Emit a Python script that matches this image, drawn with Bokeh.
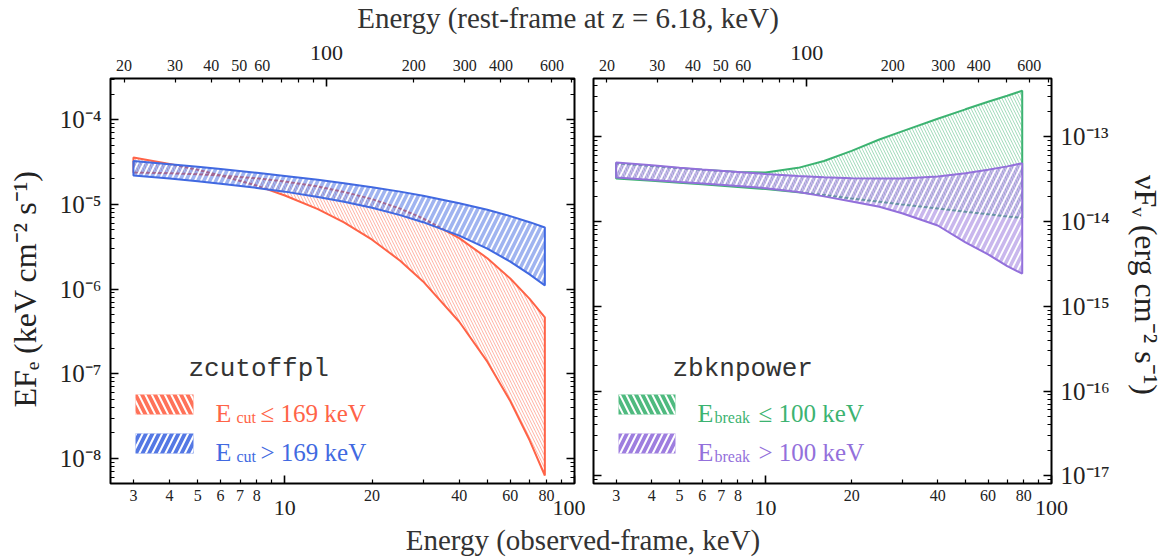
from bokeh.plotting import figure
from bokeh.models import (LogAxis, FixedTicker, Range1d, LogScale, Label, BoxAnnotation,
                          Div, CustomJSTickFormatter, Grid)
from bokeh.layouts import row, column
from bokeh.embed import file_html
from bokeh.resources import INLINE

REDSHIFT = 6.18
KEV_TO_ERG = 1.602e-9

# ---------------- data ----------------
energy_obs = [3, 4, 5, 6, 8, 10, 13, 16, 20, 25, 30, 40, 50, 60, 70, 79]

# zcutoffpl, Ecut <= 169 keV (two bounding curves, crossing near 6 keV)
cut_low_a = [3.56e-5, 2.99e-5, 2.55e-5, 2.19e-5, 1.66e-5, 1.27e-5, 8.75e-6, 6.10e-6,
             3.82e-6, 2.16e-6, 1.23e-6, 4.11e-7, 1.39e-7, 4.77e-8, 1.64e-8, 6.3e-9]
cut_low_b = [2.37e-5, 2.33e-5, 2.26e-5, 2.19e-5, 2.03e-5, 1.86e-5, 1.62e-5, 1.40e-5,
             1.15e-5, 8.88e-6, 6.82e-6, 3.99e-6, 2.31e-6, 1.33e-6, 7.64e-7, 4.63e-7]
# zcutoffpl, Ecut > 169 keV
cut_high_top = [3.24e-5, 2.97e-5, 2.77e-5, 2.60e-5, 2.35e-5, 2.16e-5, 1.95e-5, 1.77e-5,
                1.59e-5, 1.41e-5, 1.26e-5, 1.03e-5, 8.61e-6, 7.25e-6, 6.15e-6, 5.32e-6]
cut_high_bot = [2.19e-5, 2.01e-5, 1.87e-5, 1.75e-5, 1.56e-5, 1.41e-5, 1.22e-5, 1.07e-5,
                9.08e-6, 7.45e-6, 6.15e-6, 4.26e-6, 2.99e-6, 2.11e-6, 1.49e-6, 1.10e-6]
# zbknpower, Ebreak <= 100 keV
bkn_low_top = [3.05e-5, 2.83e-5, 2.67e-5, 2.55e-5, 2.40e-5, 2.37e-5, 2.69e-5, 3.24e-5,
               4.27e-5, 5.82e-5, 7.24e-5, 1.02e-4, 1.32e-4, 1.62e-4, 1.91e-4, 2.19e-4]
bkn_low_bot = [2.01e-5, 1.89e-5, 1.80e-5, 1.72e-5, 1.60e-5, 1.51e-5, 1.39e-5, 1.29e-5,
               1.17e-5, 1.07e-5, 9.95e-6, 8.91e-6, 8.17e-6, 7.62e-6, 7.19e-6, 6.89e-6]
# zbknpower, Ebreak > 100 keV
bkn_high_top = [3.11e-5, 2.88e-5, 2.70e-5, 2.57e-5, 2.40e-5, 2.28e-5, 2.16e-5, 2.08e-5,
                2.03e-5, 2.01e-5, 2.02e-5, 2.13e-5, 2.32e-5, 2.55e-5, 2.80e-5, 3.05e-5]
bkn_high_bot = [2.07e-5, 1.94e-5, 1.83e-5, 1.76e-5, 1.64e-5, 1.55e-5, 1.40e-5, 1.24e-5,
                1.08e-5, 9.33e-6, 7.85e-6, 5.62e-6, 3.55e-6, 2.57e-6, 1.86e-6, 1.52e-6]

# ---------------- ticks ----------------
obs_big_ticks = [10, 100]
obs_big_labels = ["10", "100"]
obs_small_ticks = [3, 4, 5, 6, 7, 8, 20, 40, 60, 80]
obs_small_labels = ["3", "4", "5", "6", "7", "8", "20", "40", "60", "80"]
obs_minor = [3, 4, 5, 6, 7, 8, 9, 20, 30, 40, 50, 60, 70, 80, 90]

rest_big_ticks = [100]
rest_big_labels = ["100"]
rest_small_ticks = [20, 30, 40, 50, 60, 200, 300, 400, 600]
rest_small_labels = ["20", "30", "40", "50", "60", "200", "300", "400", "600"]
rest_minor = [20, 30, 40, 50, 60, 70, 80, 90, 200, 300, 400, 500, 600, 700]

kev_ticks = [1e-8, 1e-7, 1e-6, 1e-5, 1e-4]
kev_labels = ["10⁻⁸", "10⁻⁷", "10⁻⁶", "10⁻⁵", "10⁻⁴"]
kev_minor = [k * 10.0 ** n for n in range(-9, -3) for k in range(2, 10)]
erg_ticks = [1e-17, 1e-16, 1e-15, 1e-14, 1e-13]
erg_labels = ["10⁻¹⁷", "10⁻¹⁶", "10⁻¹⁵", "10⁻¹⁴", "10⁻¹³"]
erg_minor = [k * 10.0 ** n for n in range(-18, -12) for k in range(2, 10)]

X_RANGE = (2.5, 100)
KEV_RANGE = (5.07e-9, 3.05e-4)

SERIF = "Liberation Serif"
MONO = "Liberation Mono"
RED, BLUE, GREEN, PURPLE = "#FF6347", "#4169E1", "#3CB371", "#9370DB"
INK = "#222222"

FIG_H = 489
B_TOP = 44
B_BOT = 40


def fmt(tick_values, tick_labels):
    return CustomJSTickFormatter(args=dict(tv=list(tick_values), tl=list(tick_labels)), code="""
        for (let i = 0; i < tv.length; i++) {
            if (Math.abs(Math.log10(tv[i]) - Math.log10(tick)) < 1e-6) return tl[i];
        }
        return '';
    """)


def make_axis(tick_values, minor=(), labels=None, size="16px", standoff=3, tick_in=0, minor_in=0, **kw):
    ax = LogAxis(ticker=FixedTicker(ticks=list(tick_values), minor_ticks=list(minor)), **kw)
    ax.axis_line_color = None
    ax.major_tick_in = tick_in
    ax.major_tick_out = 0
    ax.minor_tick_in = minor_in
    ax.minor_tick_out = 0
    ax.major_tick_line_color = "black" if tick_in else None
    ax.minor_tick_line_color = "black" if minor_in else None
    ax.major_tick_line_width = 1.6
    ax.minor_tick_line_width = 1.2
    ax.major_label_text_font = SERIF
    ax.major_label_text_color = INK
    ax.axis_label_text_font = SERIF
    ax.axis_label_text_font_style = "normal"
    ax.axis_label_text_color = INK
    if labels is None:
        ax.formatter = fmt(tick_values, [""] * len(tick_values))
        ax.major_label_text_font_size = "1px"
        ax.major_label_standoff = 0
    else:
        ax.formatter = fmt(tick_values, labels)
        ax.major_label_text_font_size = size
        ax.major_label_standoff = standoff
    return ax


def make_panel(width, yrange, bl, br):
    p = figure(width=width, height=FIG_H, x_axis_type="log", y_axis_type="log",
               x_range=Range1d(*X_RANGE), y_range=Range1d(*yrange),
               x_axis_location=None, y_axis_location=None,
               toolbar_location=None, output_backend="svg",
               min_border_left=bl, min_border_right=br,
               min_border_top=B_TOP, min_border_bottom=B_BOT)
    p.center = [r for r in p.center if not isinstance(r, Grid)]
    p.outline_line_color = "black"
    p.outline_line_width = 2
    p.background_fill_color = "white"
    p.border_fill_color = "white"
    p.extra_x_ranges = {"rest": Range1d(X_RANGE[0] * (1 + REDSHIFT), X_RANGE[1] * (1 + REDSHIFT))}
    p.extra_x_scales = {"rest": LogScale()}
    # bottom: ticks, small labels, big labels
    p.add_layout(make_axis(obs_big_ticks, obs_minor, None, tick_in=8, minor_in=4), "below")
    p.add_layout(make_axis(obs_small_ticks, (), obs_small_labels, "16px", standoff=6), "below")
    p.add_layout(make_axis(obs_big_ticks, (), obs_big_labels, "22px", standoff=-3), "below")
    # top: rest-frame
    p.add_layout(make_axis(rest_big_ticks, rest_minor, None, tick_in=8, minor_in=4,
                           x_range_name="rest"), "above")
    p.add_layout(make_axis(rest_small_ticks, (), rest_small_labels, "16px", standoff=8,
                           x_range_name="rest"), "above")
    p.add_layout(make_axis(rest_big_ticks, (), rest_big_labels, "22px", standoff=-3,
                           x_range_name="rest"), "above")
    return p


def band(p, x, y1, y2, color, hatch, scale, factor=1.0):
    xs = list(x) + list(x)[::-1]
    ys = [v * factor for v in y1] + [v * factor for v in y2][::-1]
    p.patch(xs, ys, fill_color=color, fill_alpha=0.5, line_color=color, line_width=2,
            hatch_pattern=hatch, hatch_color="white", hatch_scale=scale, hatch_weight=1.8)


def text(p, s, x, y, size, color, font=SERIF, style="normal"):
    p.add_layout(Label(x=x, y=y, x_units="screen", y_units="screen", text=s,
                       text_font=font, text_font_size=f"{size}px", text_color=color,
                       text_font_style=style, text_align="left", text_baseline="alphabetic"))


def swatch(p, left, right, bottom, top, color, hatch):
    p.add_layout(BoxAnnotation(left=left, right=right, bottom=bottom, top=top,
                               left_units="screen", right_units="screen",
                               bottom_units="screen", top_units="screen",
                               fill_color=color, fill_alpha=0.9, line_color=None,
                               hatch_pattern=hatch, hatch_color="white",
                               hatch_scale=13, hatch_weight=2))


# ---------------- left panel ----------------
p1 = make_panel(585, KEV_RANGE, 110, 11)
yax1 = make_axis(kev_ticks, kev_minor, kev_labels, "25px", standoff=9, tick_in=8, minor_in=4)
yax1.axis_label = "EFₑ (keV cm⁻² s⁻¹)\u00a0\u00a0"
yax1.axis_label_text_font_size = "32px"
yax1.axis_label_standoff = 14
p1.add_layout(yax1, "left")
p1.add_layout(make_axis(kev_ticks, kev_minor, None, tick_in=8, minor_in=4), "right")
band(p1, energy_obs, cut_low_a, cut_low_b, RED, "\\", 6)
band(p1, energy_obs, cut_high_top, cut_high_bot, BLUE, "/", 12)

text(p1, "zcutoffpl", 78, 115, 26, "#333333", font=MONO)
swatch(p1, 25, 83, 69, 89, RED, "\\")
swatch(p1, 25, 83, 30, 50, BLUE, "/")
text(p1, "E", 105, 70, 26, RED)
text(p1, "cut", 126, 66, 16, RED)
text(p1, "≤ 169 keV", 150, 70, 25, RED)
text(p1, "E", 105, 31, 26, BLUE)
text(p1, "cut", 126, 27, 16, BLUE)
text(p1, "> 169 keV", 150, 31, 25, BLUE)

# ---------------- right panel ----------------
ERG_RANGE = (KEV_RANGE[0] * KEV_TO_ERG, KEV_RANGE[1] * KEV_TO_ERG)
p2 = make_panel(581, ERG_RANGE, 8, 111)
p2.add_layout(make_axis(erg_ticks, erg_minor, None, tick_in=8, minor_in=4), "left")
yax2 = make_axis(erg_ticks, erg_minor, erg_labels, "25px", standoff=9, tick_in=8, minor_in=4)
yax2.axis_label = "\u00a0νFᵥ (erg cm⁻² s⁻¹)"
yax2.axis_label_text_font_size = "32px"
yax2.axis_label_standoff = 15
p2.add_layout(yax2, "right")
band(p2, energy_obs, bkn_low_top, bkn_low_bot, GREEN, "\\", 6, KEV_TO_ERG)
band(p2, energy_obs, bkn_high_top, bkn_high_bot, PURPLE, "/", 12, KEV_TO_ERG)

text(p2, "zbknpower", 79, 115, 26, "#333333", font=MONO)
swatch(p2, 25, 82, 69, 89, GREEN, "\\")
swatch(p2, 25, 82, 30, 50, PURPLE, "/")
text(p2, "E", 104, 70, 26, GREEN)
text(p2, "break", 121, 66, 16, GREEN)
text(p2, "≤ 100 keV", 165, 70, 25, GREEN)
text(p2, "E", 104, 31, 26, PURPLE)
text(p2, "break", 121, 27, 16, PURPLE)
text(p2, "> 100 keV", 165, 31, 25, PURPLE)

# ---------------- titles ----------------
TITLE_STYLE = ("width:1166px;text-align:center;font-family:'Liberation Serif';font-size:29px;"
               "color:#333333;white-space:nowrap;position:relative;")
top_title = Div(text=f'<div style="{TITLE_STYLE}line-height:34px;left:-15px;top:1px;">'
                     'Energy (rest-frame at z = 6.18, keV)</div>',
                width=1166, height=34, margin=(0, 0, 0, 0))
bottom_title = Div(text=f'<div style="{TITLE_STYLE}line-height:34px;">'
                        'Energy (observed-frame, keV)</div>',
                   width=1166, height=34, margin=(0, 0, 0, 0))

layout = column(top_title, row(p1, p2), bottom_title)
open("out.html", "w").write(file_html(layout, INLINE))
